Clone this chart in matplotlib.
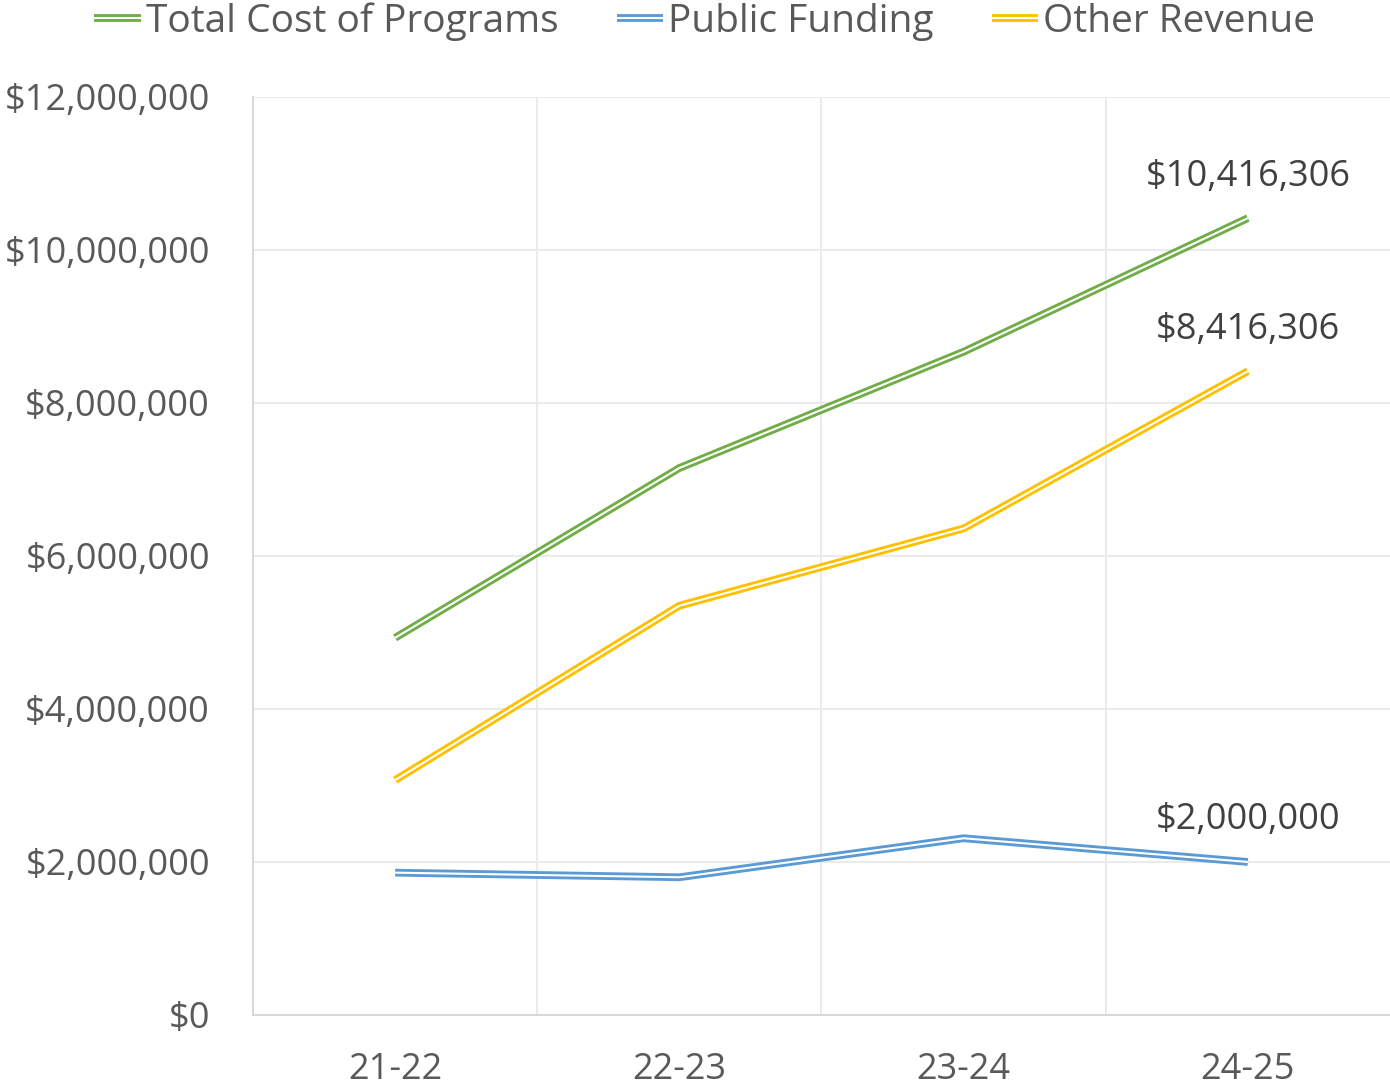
import matplotlib
matplotlib.use("Agg")
import matplotlib.pyplot as plt
import matplotlib.patheffects as pe
from matplotlib.ticker import FuncFormatter, MultipleLocator

categories = ["21-22", "22-23", "23-24", "24-25"]
total_cost = [4930000, 7150000, 8670000, 10416306]
public_funding = [1860000, 1800000, 2310000, 2000000]
other_revenue = [3070000, 5350000, 6360000, 8416306]
series_names = ["Total Cost of Programs", "Public Funding", "Other Revenue"]
colors = ["#70AD47", "#5B9BD5", "#FFC000"]

plt.rcParams["font.family"] = ["Open Sans", "DejaVu Sans"]

fig = plt.figure(figsize=(13.9, 10.91), dpi=100)
ax = fig.add_axes([0.182, 0.0697, 0.818, 0.8414])

x = [i + 0.5 for i in range(len(categories))]
for vals, name, col in zip([total_cost, public_funding, other_revenue], series_names, colors):
    ax.plot(x, vals, color="white", lw=1.5, label=name, zorder=3,
            solid_joinstyle="miter", solid_capstyle="butt",
            path_effects=[pe.Stroke(linewidth=5.6, foreground=col), pe.Normal()])
    ax.annotate("${:,.0f}".format(vals[-1]), (x[-1], vals[-1]), xytext=(0, 17),
                textcoords="offset points", ha="center", va="bottom",
                fontsize=26, color="#404040")

ax.set_xlim(0, 4)
ax.set_ylim(0, 12000000)
ax.yaxis.set_major_locator(MultipleLocator(2000000))
ax.yaxis.set_major_formatter(FuncFormatter(lambda v, p: "${:,.0f}".format(v)))
ax.set_xticks(x)
ax.set_xticklabels(categories)
ax.set_xticks([1, 2, 3], minor=True)
ax.grid(True, which="major", axis="y", color="#EBEBEB", lw=1.5)
ax.grid(True, which="minor", axis="x", color="#EBEBEB", lw=1.5)
ax.set_axisbelow(True)
ax.tick_params(axis="both", which="both", length=0)
ax.tick_params(axis="y", pad=31, labelsize=26, labelcolor="#595959")
ax.tick_params(axis="x", pad=27, labelsize=26, labelcolor="#595959")
for s in ["top", "right"]:
    ax.spines[s].set_visible(False)
for s in ["left", "bottom"]:
    ax.spines[s].set_color("#D9D9D9")
    ax.spines[s].set_linewidth(1.5)

fig.legend(loc="upper center", bbox_to_anchor=(0.507, 1.03), ncol=3, frameon=False,
           fontsize=28, labelcolor="#595959", handlelength=1.2, handletextpad=0.12,
           columnspacing=1.5)

fig.savefig("out.png", dpi=100)
